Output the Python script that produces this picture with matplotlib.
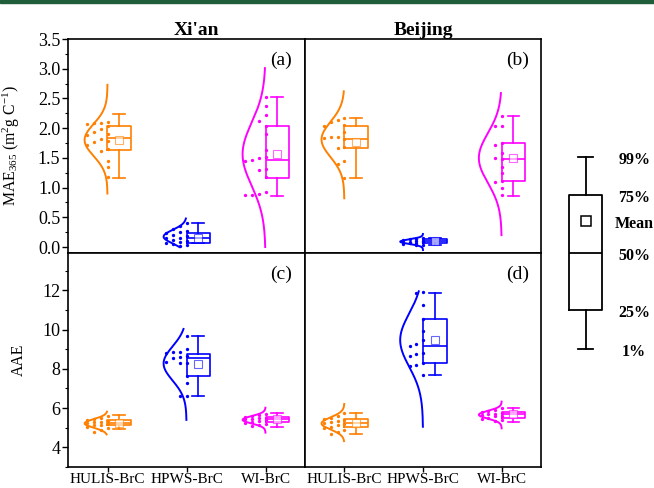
import numpy as np
from matplotlib import pyplot as plt
from matplotlib.patches import Rectangle
from matplotlib.ticker import MultipleLocator

plt.rcParams['font.family'] = 'Liberation Serif'
plt.rcParams['mathtext.fontset'] = 'custom'
plt.rcParams['mathtext.rm'] = 'Liberation Serif'
plt.rcParams['mathtext.it'] = 'Liberation Serif:italic'

#%% data
groups = ['HULIS-BrC', 'HPWS-BrC', 'WI-BrC']
cities = ["Xi'an", 'Beijing']
colors = ['#ff8000', '#0000ff', '#ff00ff']

# MAE365 samples (m2 g C-1)
mae_xian = [
    [2.10, 2.09, 2.09, 2.07, 2.03, 1.98, 1.94, 1.90, 1.88, 1.82, 1.79, 1.77, 1.72, 1.65, 1.62, 1.45, 1.34, 1.18],
    [0.40, 0.36, 0.30, 0.27, 0.25, 0.23, 0.20, 0.18, 0.16, 0.15, 0.12, 0.10, 0.08, 0.06, 0.05, 0.04, 0.02],
    [2.52, 2.38, 2.22, 2.12, 2.04, 1.90, 1.63, 1.52, 1.50, 1.47, 1.45, 1.32, 1.30, 1.18, 0.92, 0.90, 0.88, 0.87],
]
mae_beijing = [
    [2.17, 2.13, 2.11, 2.06, 2.04, 1.94, 1.85, 1.85, 1.84, 1.81, 1.69, 1.67, 1.44, 1.39, 1.16],
    [0.16, 0.14, 0.13, 0.12, 0.11, 0.10, 0.09, 0.09, 0.08, 0.07, 0.06, 0.05, 0.04, 0.03],
    [2.21, 2.04, 2.03, 1.75, 1.72, 1.59, 1.50, 1.48, 1.35, 1.24, 1.11, 1.09, 0.99, 0.87],
]
# AAE samples
aae_xian = [
    [5.58, 5.50, 5.42, 5.38, 5.35, 5.30, 5.28, 5.25, 5.20, 5.15, 5.12, 5.05, 5.00, 4.90, 4.80],
    [9.65, 9.00, 8.88, 8.85, 8.83, 8.65, 8.60, 8.55, 8.35, 8.30, 8.28, 7.65, 7.27, 6.64, 6.60],
    [5.72, 5.65, 5.60, 5.55, 5.50, 5.48, 5.45, 5.42, 5.40, 5.35, 5.30, 5.25, 5.20, 5.12, 5.08],
]
aae_beijing = [
    [5.75, 5.62, 5.52, 5.45, 5.40, 5.32, 5.28, 5.25, 5.20, 5.12, 5.05, 4.98, 4.88, 4.78, 4.68],
    [11.90, 11.85, 11.27, 10.54, 9.91, 9.45, 9.28, 9.18, 8.80, 8.77, 8.63, 8.32, 8.20, 8.15, 7.69],
    [6.00, 5.90, 5.85, 5.80, 5.76, 5.72, 5.70, 5.66, 5.62, 5.58, 5.52, 5.45, 5.38, 5.32],
]

# box statistics: 1%, 25%, 50%, 75%, 99%, mean
box_mae_xian = [[1.17, 1.63, 1.83, 2.04, 2.23, 1.80],
                [0.06, 0.07, 0.15, 0.23, 0.40, 0.15],
                [0.865, 1.17, 1.47, 2.03, 2.52, 1.56]]
box_mae_beijing = [[1.17, 1.66, 1.82, 2.04, 2.17, 1.77],
                   [0.04, 0.07, 0.10, 0.13, 0.16, 0.10],
                   [0.865, 1.11, 1.48, 1.75, 2.21, 1.50]]
box_aae_xian = [[4.92, 5.12, 5.26, 5.40, 5.65, 5.25],
                [6.62, 7.65, 8.55, 8.78, 9.65, 8.26],
                [5.05, 5.28, 5.43, 5.56, 5.74, 5.42]]
box_aae_beijing = [[4.66, 5.06, 5.26, 5.45, 5.77, 5.25],
                   [7.69, 8.32, 9.18, 10.54, 11.88, 9.47],
                   [5.31, 5.52, 5.69, 5.82, 6.02, 5.68]]

# range covered by each normal curve
span_mae_xian = [(0.90, 2.73), (0.0, 0.48), (0.0, 3.01)]
span_mae_beijing = [(0.82, 2.62), (-0.05, 0.22), (0.20, 2.59)]
span_aae_xian = [(4.66, 5.82), (5.40, 10.03), (4.75, 6.02)]
span_aae_beijing = [(4.32, 6.21), (5.05, 11.95), (4.97, 6.33)]

# schematic key
key_stats = [7.1, 24.4, 49.8, 75.6, 92.4, 64.0]
key_labels = ['1%', '25%', '50%', '75%', '99%', 'Mean']

#%% helpers
def swarm_x(vals, pos, thr, ncol=4, step=0.085):
    order = np.argsort(vals)[::-1]
    cols = [[] for _ in range(ncol)]
    xs = np.zeros(len(vals))
    for i in order:
        v = vals[i]
        best = None
        for c in range(ncol):
            if all(abs(v - u) > thr for u in cols[c]):
                best = c
                break
        if best is None:
            best = int(np.argmax([min(abs(v - u) for u in cc) for cc in cols]))
        cols[best].append(v)
        xs[i] = pos - best * step
    return xs


def draw_group(ax, pos, vals, box, span, col, thr):
    vals = np.asarray(vals)
    mu, sd = vals.mean(), vals.std(ddof=1)
    ys = np.linspace(span[0], span[1], 300)
    pdf = np.exp(-(ys - mu) ** 2 / (2 * sd ** 2))
    ax.plot(pos - 0.29 * pdf / pdf.max(), ys, color=col, lw=1.4)

    ax.plot(swarm_x(vals, pos, thr), vals, 'o', ms=2.4, color=col, mec='none')

    st = dict(whislo=box[0], q1=box[1], med=box[2], q3=box[3], whishi=box[4],
              mean=box[5], fliers=[])
    lp = dict(color=col, lw=1.2)
    ax.bxp([st], positions=[pos + 0.15], widths=0.3, capwidths=[0.15],
           showmeans=True, showfliers=False,
           boxprops=lp, whiskerprops=lp, capprops=lp, medianprops=lp,
           meanprops=dict(marker='s', ms=5.5, mfc='white', mec=col, mew=0.8, alpha=0.6))


#%% figure
fig = plt.figure(figsize=(6.54, 4.88), dpi=100)
fig.patches.append(Rectangle((0, 1 - 2.5 / 488), 1, 2.5 / 488, transform=fig.transFigure,
                             color='#1f5e38', zorder=5))

W, H = 654, 488
xl = [68, 305]
wd = [237, 236]
yt = [39, 253]
ht = 214

data = [[mae_xian, mae_beijing], [aae_xian, aae_beijing]]
boxes = [[box_mae_xian, box_mae_beijing], [box_aae_xian, box_aae_beijing]]
spans = [[span_mae_xian, span_mae_beijing], [span_aae_xian, span_aae_beijing]]
ylims = [(-0.1, 3.5), (3, 13.9)]
panel_tags = [['(a)', '(b)'], ['(c)', '(d)']]
positions = np.arange(1, len(groups) + 1)

for r in range(2):
    for c in range(2):
        ax = fig.add_axes([xl[c] / W, 1 - (yt[r] + ht) / H, wd[c] / W, ht / H])
        thr = 0.028 * (ylims[r][1] - ylims[r][0])
        for g in range(len(groups)):
            draw_group(ax, positions[g], data[r][c][g], boxes[r][c][g],
                       spans[r][c][g], colors[g], thr)
        ax.set_xlim(0.5, 3.5)
        ax.set_ylim(*ylims[r])
        for sp in ax.spines.values():
            sp.set_linewidth(1.2)
        ax.tick_params(direction='out', length=4, width=1, labelsize=13, pad=1.5)
        ax.tick_params(which='minor', direction='out', length=2.2, width=0.8)
        if r == 0:
            ax.yaxis.set_major_locator(MultipleLocator(0.5))
            ax.yaxis.set_minor_locator(MultipleLocator(0.25))
            ax.yaxis.set_major_formatter('{x:.1f}')
            ax.set_xticks([])
            ax.set_title(cities[c], fontsize=14, fontweight='bold', pad=3,
                         x=0.54 if c == 0 else 0.5)
        else:
            ax.yaxis.set_major_locator(MultipleLocator(2))
            ax.yaxis.set_minor_locator(MultipleLocator(1))
            ax.set_xticks(positions)
            ax.set_xticklabels(groups, fontsize=11)
            ax.tick_params(axis='x', length=3.5, pad=0.5)
        if c == 1:
            ax.tick_params(axis='y', which='both', left=False, labelleft=False)
        else:
            if r == 0:
                ax.set_ylabel(r'MAE$_{\mathit{365}}$ (m$^{2}$g C$^{-1}$)', fontsize=11.3)
                ax.yaxis.set_label_coords(-0.195, 0.5)
            else:
                ax.set_ylabel('AAE', fontsize=11.3)
                ax.yaxis.set_label_coords(-0.175, 0.5)
        ax.text(0.9, 0.9, panel_tags[r][c], transform=ax.transAxes, fontsize=14,
                ha='center', va='center')

# key to the box elements
kax = fig.add_axes([555 / W, 1 - 365 / H, 99 / W, 225 / H])
kax.set_xlim(0, 1)
kax.set_ylim(0, 100)
kax.axis('off')
kst = dict(whislo=key_stats[0], q1=key_stats[1], med=key_stats[2], q3=key_stats[3],
           whishi=key_stats[4], mean=key_stats[5], fliers=[])
kp = dict(color='black', lw=1.3)
kax.bxp([kst], positions=[0.31], widths=0.335, capwidths=[0.15], showmeans=True,
        showfliers=False, boxprops=kp, whiskerprops=kp, capprops=kp, medianprops=kp,
        meanprops=dict(marker='s', ms=7, mfc='white', mec='black', mew=1.1))
for v, lab in zip(key_stats, key_labels):
    kax.text(0.8, v - 1.5, lab, fontsize=11.5, fontweight='bold', ha='center', va='center')

fig.savefig('out.png', dpi=100)
